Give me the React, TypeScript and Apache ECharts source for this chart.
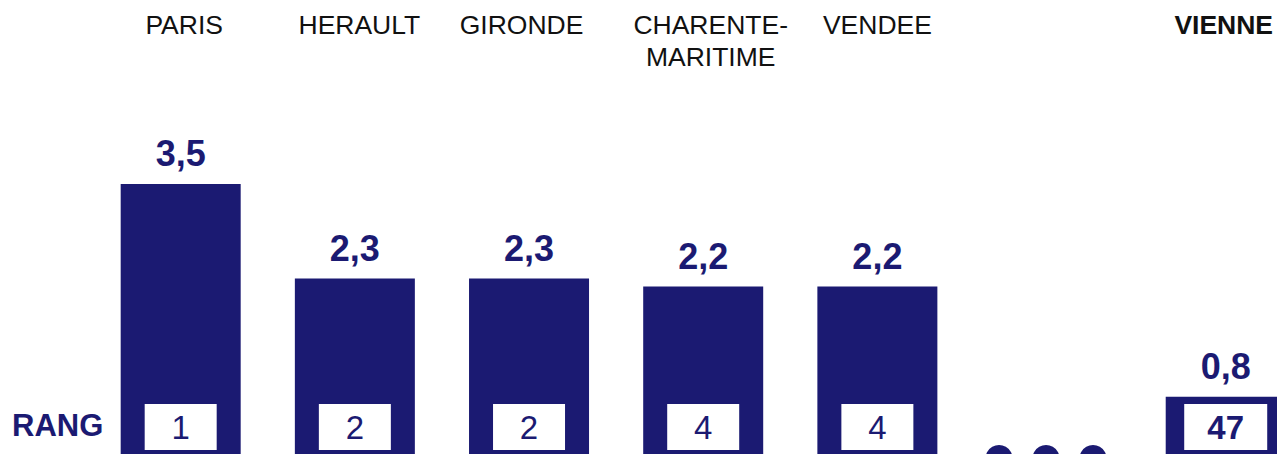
import React, { useEffect, useRef } from "react";
import * as echarts from "echarts";

const categories: string[] = ["PARIS", "HERAULT", "GIRONDE", "CHARENTE-\nMARITIME", "VENDEE", "", "VIENNE"];
const values: (number | null)[] = [3.5, 2.3, 2.3, 2.2, 2.2, null, 0.8];
const ranks: (number | null)[] = [1, 2, 2, 4, 4, null, 47];
const highlightIndex = 6;
const ellipsisIndex = 5;
const rankTitle = "RANG";

// small horizontal nudges of the category names (layout only)
const labelShift: number[] = [3.5, 4.5, -7.5, 7.5, 0, 0, -2];

const NAVY = "#1b1a72";
const FONT = "'Liberation Sans', Arial, sans-serif";
const RANK_LEVEL = 0.415;

export default function App() {
  const ref = useRef<HTMLDivElement>(null);
  useEffect(() => {
    document.body.style.margin = "0";
    document.body.style.overflow = "hidden";
    const chart = echarts.init(ref.current!, undefined, { renderer: "svg" });
    const rich: any = {};
    categories.forEach((_, i) => {
      const s = labelShift[i];
      rich["s" + i] = {
        fontSize: 26.5,
        lineHeight: 32,
        fontFamily: FONT,
        color: "#111111",
        fontWeight: i === highlightIndex ? "bold" : "normal",
        padding: [0, s < 0 ? -2 * s : 0, 0, s > 0 ? 2 * s : 0],
      };
    });
    const option: any = {
      animation: false,
      backgroundColor: "#ffffff",
      grid: { left: 93.6, top: 144.6, width: 1219.2, height: 315.1, outerBoundsMode: "none", containLabel: false },
      xAxis: {
        type: "category",
        data: categories,
        position: "top",
        axisLine: { show: false },
        axisTick: { show: false },
        splitLine: { show: false },
        axisLabel: {
          interval: 0,
          margin: 136,
          verticalAlign: "top",
          fontSize: 26.5,
          lineHeight: 32,
          color: "#111111",
          fontFamily: FONT,
          formatter: (v: string, i: number) =>
            v
              .split("\n")
              .map((line) => (line ? `{s${i}|${line}}` : ""))
              .join("\n"),
          rich,
        },
      },
      yAxis: { type: "value", min: 0, max: 4, show: false },
      series: [
        {
          type: "bar",
          data: values.map((v) => (v == null ? "-" : v)),
          barWidth: 120,
          silent: true,
          itemStyle: { color: NAVY },
          label: {
            show: true,
            position: "top",
            distance: 12,
            formatter: (p: any) => String(p.value).replace(".", ","),
            fontSize: 36,
            fontWeight: "bold",
            color: NAVY,
            fontFamily: FONT,
          },
        },
        {
          type: "scatter",
          symbol: "rect",
          silent: true,
          itemStyle: { color: "#ffffff", opacity: 1 },
          data: ranks
            .map((r, i) =>
              r == null
                ? null
                : {
                    name: String(r),
                    value: [i, RANK_LEVEL],
                    symbolSize: i === highlightIndex ? [83, 46] : [72, 46],
                    label: { fontWeight: i === highlightIndex ? "bold" : "normal" },
                  }
            )
            .filter((d) => d != null),
          label: {
            show: true,
            position: "inside",
            formatter: (p: any) => p.name,
            fontSize: 33,
            color: NAVY,
            fontFamily: FONT,
          },
          z: 5,
        },
      ],
    };
    chart.setOption(option);
    const cx = chart.convertToPixel({ xAxisIndex: 0 } as any, ellipsisIndex) as number;
    const baseY = chart.convertToPixel({ yAxisIndex: 0 } as any, 0) as number;
    const rankY = chart.convertToPixel({ yAxisIndex: 0 } as any, RANK_LEVEL) as number;
    chart.setOption({
      graphic: [
        {
          type: "text",
          x: 12,
          y: rankY - 2,
          style: {
            text: rankTitle,
            fontSize: 31,
            fontWeight: "bold",
            fontFamily: FONT,
            fill: NAVY,
            verticalAlign: "middle",
          },
        },
        ...[-47, 0, 47].map((dx) => ({
          type: "circle",
          shape: { cx: cx + dx - 5.5, cy: baseY - 1.2, r: 13.5 },
          style: { fill: NAVY },
        })),
      ],
    });
    return () => chart.dispose();
  }, []);
  return <div ref={ref} style={{ width: 1277, height: 454 }} />;
}
